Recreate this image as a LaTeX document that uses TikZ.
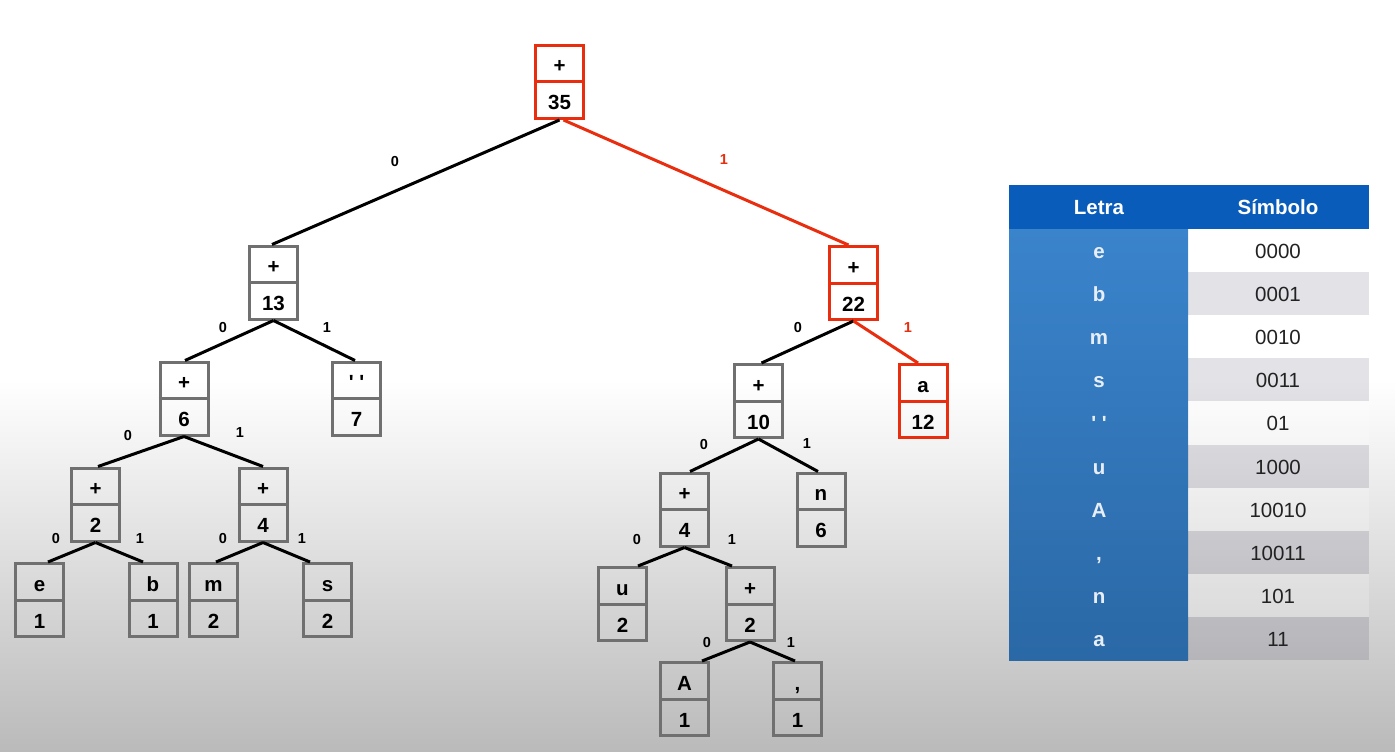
\documentclass[tikz,border=0pt]{standalone}
\usepackage{fontspec}
\setmainfont{Liberation Sans}
\newfontfamily\rawsans{Liberation Sans}[Ligatures=TeXOff]
\usetikzlibrary{calc}
\definecolor{boxgray}{RGB}{112,112,112}
\definecolor{hred}{RGB}{232,46,14}
\definecolor{hdrblue}{RGB}{10,92,186}
\definecolor{coltop}{RGB}{58,132,204}
\definecolor{colbot}{RGB}{42,104,166}
\definecolor{bgbot}{RGB}{186,186,186}
\definecolor{rowgray}{RGB}{20,20,60}
\definecolor{lettxt}{RGB}{232,238,246}
\definecolor{symtxt}{RGB}{34,34,34}
\tikzset{
  hbox/.style={draw=boxgray, line width=3pt, minimum width=48pt, minimum height=73pt, inner sep=0pt},
  redbox/.style={draw=hred},
  midline/.style={line width=3pt, boxgray},
  htxt/.style={font=\bfseries\fontsize{20.5}{20.5}\selectfont, inner sep=0pt, anchor=base},
  blackedge/.style={line width=3pt, black},
  rededge/.style={line width=3pt, hred},
  elab/.style={font=\bfseries\fontsize{14.5}{14.5}\selectfont, inner sep=0pt},
  rlab/.style={elab, text=hred},
  hdrtxt/.style={font=\bfseries\fontsize{20.5}{20.5}\selectfont, text=white, inner sep=0pt, anchor=base},
  lettxtstyle/.style={font=\bfseries\fontsize{20.5}{20.5}\selectfont, text=lettxt, inner sep=0pt, anchor=base},
  symtxtstyle/.style={font=\fontsize{20.5}{20.5}\selectfont, text=symtxt, inner sep=0pt, anchor=base},
}
% name, x, y, top text, bottom text, extra style
\newcommand{\hnode}[6]{%
  \node[hbox,#6] (#1) at (#2,#3) {};
  \draw[midline,#6] (#1.west) -- (#1.east);
  \node[htxt] (#1-t) at ($(#1.center)+(0,-9)$) {#4};
  \node[htxt] (#1-b) at ($(#1.south)+(0,-10)$) {#5};
}
\begin{document}
\begin{tikzpicture}[x=1pt,y=-1pt]
\useasboundingbox (0,0) rectangle (1395,752);
% background
\fill[white] (0,0) rectangle (1395,380);
\shade[top color=white, bottom color=bgbot] (0,380) rectangle (1395,752);

% tree nodes
\hnode{root}{559.5}{82}{+}{35}{redbox}
\hnode{n13}{273.5}{282.5}{+}{13}{}
\hnode{n22}{853.5}{283}{+}{22}{redbox}
\hnode{n6}{184}{398.5}{+}{6}{}
\hnode{nsp}{356.5}{398.5}{{\rawsans' '}}{7}{}
\hnode{n10}{758.5}{401}{+}{10}{}
\hnode{na}{923}{401}{a}{12}{redbox}
\hnode{n2l}{95.5}{504.5}{+}{2}{}
\hnode{n4l}{263}{504.5}{+}{4}{}
\hnode{n4r}{684.5}{509.5}{+}{4}{}
\hnode{nn}{821}{509.5}{n}{6}{}
\hnode{ne}{39.5}{600}{e}{1}{}
\hnode{nb}{153}{600}{b}{1}{}
\hnode{nm}{213.5}{600}{m}{2}{}
\hnode{ns}{327.5}{600}{s}{2}{}
\hnode{nu}{622.5}{604}{u}{2}{}
\hnode{n2r}{750}{604}{+}{2}{}
\hnode{nA}{684.5}{699}{A}{1}{}
\hnode{ncomma}{797.5}{699}{,}{1}{}

% edges
\draw[blackedge] (root.south) -- ([xshift=-1.5pt]n13.north);
\draw[rededge] ([xshift=4pt]root.south) -- ([xshift=-5pt]n22.north);
\draw[blackedge] (n13.south) -- ([xshift=1pt]n6.north);
\draw[blackedge] (n13.south) -- ([xshift=-1.5pt]nsp.north);
\draw[blackedge] (n22.south) -- ([xshift=3pt]n10.north);
\draw[rededge] (n22.south) -- ([xshift=-5pt]na.north);
\draw[blackedge] (n6.south) -- ([xshift=2.5pt]n2l.north);
\draw[blackedge] (n6.south) -- ([xshift=0pt]n4l.north);
\draw[blackedge] (n10.south) -- ([xshift=5.5pt]n4r.north);
\draw[blackedge] (n10.south) -- ([xshift=-3pt]nn.north);
\draw[blackedge] (n2l.south) -- ([xshift=8.5pt]ne.north);
\draw[blackedge] (n2l.south) -- ([xshift=-10pt]nb.north);
\draw[blackedge] (n4l.south) -- ([xshift=2.5pt]nm.north);
\draw[blackedge] (n4l.south) -- ([xshift=-17.5pt]ns.north);
\draw[blackedge] (n4r.south) -- ([xshift=15.5pt]nu.north);
\draw[blackedge] (n4r.south) -- ([xshift=-18pt]n2r.north);
\draw[blackedge] (n2r.south) -- ([xshift=17.5pt]nA.north);
\draw[blackedge] (n2r.south) -- ([xshift=-2.5pt]ncomma.north);

% edge labels
\node[elab] (l-r0) at (395,162) {0};
\node[rlab] (l-r1) at (724,160) {1};
\node[elab] (l-13a) at (223,328) {0};
\node[elab] (l-13b) at (327,328) {1};
\node[elab] (l-22a) at (798,328) {0};
\node[rlab] (l-22b) at (908,328) {1};
\node[elab] (l-6a) at (128,436) {0};
\node[elab] (l-6b) at (240,433) {1};
\node[elab] (l-10a) at (704,445) {0};
\node[elab] (l-10b) at (807,444) {1};
\node[elab] (l-2la) at (56,539) {0};
\node[elab] (l-2lb) at (140,539) {1};
\node[elab] (l-4la) at (223,539) {0};
\node[elab] (l-4lb) at (302,539) {1};
\node[elab] (l-4ra) at (637,540) {0};
\node[elab] (l-4rb) at (732,540) {1};
\node[elab] (l-2ra) at (707,643) {0};
\node[elab] (l-2rb) at (791,643) {1};

% table
\fill[hdrblue] (1009,185) rectangle (1369,229);
\shade[top color=coltop, bottom color=colbot] (1009,229) rectangle (1188,660);
\foreach \i in {0,2,4,6,8} {
  \fill[white, fill opacity=0.2] (1188,{229+43.1*\i}) rectangle (1369,{229+43.1*(\i+1)});
}
\foreach \i in {1,3,5,7,9} {
  \fill[rowgray, fill opacity=0.12] (1188,{229+43.1*\i}) rectangle (1369,{229+43.1*(\i+1)});
}
\node[hdrtxt] (th-l) at (1099,214.5) {Letra};
\node[hdrtxt] (th-s) at (1278,214.5) {Símbolo};
\node[lettxtstyle] (tl0) at (1099,258.5) {e};
\node[lettxtstyle] (tl1) at (1099,301.6) {b};
\node[lettxtstyle] (tl2) at (1099,344.7) {m};
\node[lettxtstyle] (tl3) at (1099,387.8) {s};
\node[lettxtstyle] (tl4) at (1099,430.9) {\rawsans' '};
\node[lettxtstyle] (tl5) at (1099,474.0) {u};
\node[lettxtstyle] (tl6) at (1099,517.1) {A};
\node[lettxtstyle] (tl7) at (1099,560.2) {,};
\node[lettxtstyle] (tl8) at (1099,603.3) {n};
\node[lettxtstyle] (tl9) at (1099,646.4) {a};
\node[symtxtstyle] (ts0) at (1278,258.5) {0000};
\node[symtxtstyle] (ts1) at (1278,301.6) {0001};
\node[symtxtstyle] (ts2) at (1278,344.7) {0010};
\node[symtxtstyle] (ts3) at (1278,387.8) {0011};
\node[symtxtstyle] (ts4) at (1278,430.9) {01};
\node[symtxtstyle] (ts5) at (1278,474.0) {1000};
\node[symtxtstyle] (ts6) at (1278,517.1) {10010};
\node[symtxtstyle] (ts7) at (1278,560.2) {10011};
\node[symtxtstyle] (ts8) at (1278,603.3) {101};
\node[symtxtstyle] (ts9) at (1278,646.4) {11};
\end{tikzpicture}
\end{document}
